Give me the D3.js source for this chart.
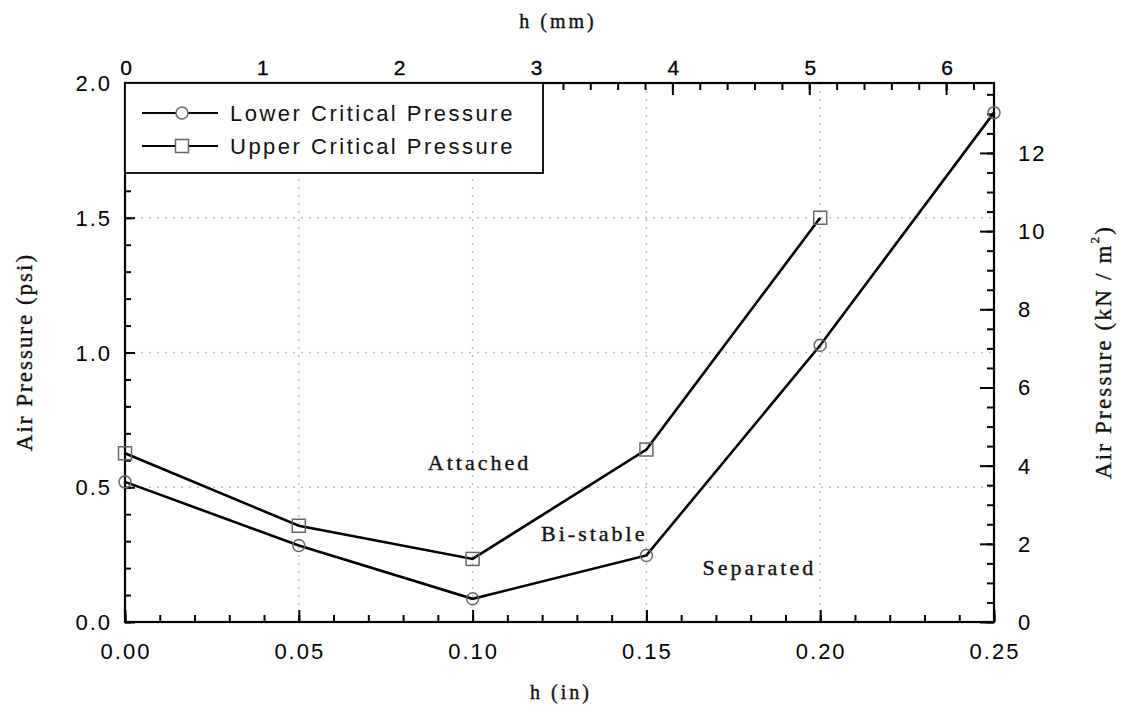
<!DOCTYPE html>
<html>
<head>
<meta charset="utf-8">
<script src="https://cdn.jsdelivr.net/npm/d3@7"></script>
<style>
body{margin:0;background:#fff;}
svg{display:block;}
</style>
</head>
<body>
<svg id="chart" width="1124" height="709"></svg>
<script>
const hIn = [0.00, 0.05, 0.10, 0.15, 0.20, 0.25];
const lowerCritical = [0.52, 0.284, 0.086, 0.247, 1.027, 1.89];
const hInUpper = [0.00, 0.05, 0.10, 0.15, 0.20];
const upperCritical = [0.626, 0.357, 0.234, 0.640, 1.50];
const seriesNames = ["Lower Critical Pressure", "Upper Critical Pressure"];
const regionLabels = [
  {text: "Attached", h: 0.102, p: 0.565},
  {text: "Bi-stable", h: 0.135, p: 0.30},
  {text: "Separated", h: 0.1825, p: 0.175}
];
const xTicksIn = [0.00, 0.05, 0.10, 0.15, 0.20, 0.25];
const yTicksPsi = [0.0, 0.5, 1.0, 1.5, 2.0];
const xTicksMm = [0, 1, 2, 3, 4, 5, 6];
const yTicksKn = [0, 2, 4, 6, 8, 10, 12];
const IN_TO_MM = 25.4, PSI_TO_KN = 6.89476;

const svg = d3.select("#chart");
const L = 125, R = 994, T = 83, B = 622;
const x = d3.scaleLinear().domain([0, 0.25]).range([L, R]);
const y = d3.scaleLinear().domain([0, 2]).range([B, T]);
const xmm = d3.scaleLinear().domain([0, 0.25 * IN_TO_MM]).range([L, R]);
const ykn = d3.scaleLinear().domain([0, 2 * PSI_TO_KN]).range([B, T]);

const sans = "'Liberation Sans', Arial, sans-serif";
const serif = "'Liberation Serif', 'Times New Roman', serif";

// grid
const grid = svg.append("g").attr("stroke", "#bdbdbd").attr("stroke-width", 1.5).attr("stroke-dasharray", "2,6");
grid.selectAll("line.v").data(xTicksIn.slice(1, -1)).join("line")
  .attr("x1", d => x(d)).attr("x2", d => x(d)).attr("y1", T).attr("y2", B);
grid.selectAll("line.h").data(yTicksPsi.slice(1, -1)).join("line")
  .attr("y1", d => y(d)).attr("y2", d => y(d)).attr("x1", L).attr("x2", R);

function styleAxis(g) {
  g.select(".domain").remove();
  g.selectAll("line").attr("stroke", "#000").attr("stroke-width", 2);
  g.selectAll("text").remove();
}
svg.append("g").attr("transform", `translate(0,${B})`)
  .call(d3.axisTop(x).tickValues(d3.range(0, 0.2501, 0.01)).tickSize(7)).call(styleAxis);
svg.append("g").attr("transform", `translate(0,${B})`)
  .call(d3.axisTop(x).tickValues(xTicksIn).tickSize(12)).call(styleAxis);
svg.append("g").attr("transform", `translate(0,${T})`)
  .call(d3.axisBottom(xmm).tickValues(d3.range(0, 6.35, 0.2)).tickSize(7)).call(styleAxis);
svg.append("g").attr("transform", `translate(0,${T})`)
  .call(d3.axisBottom(xmm).tickValues(xTicksMm).tickSize(12)).call(styleAxis);
svg.append("g").attr("transform", `translate(${L},0)`)
  .call(d3.axisRight(y).tickValues(d3.range(0, 2.001, 0.1)).tickSize(6)).call(styleAxis);
svg.append("g").attr("transform", `translate(${L},0)`)
  .call(d3.axisRight(y).tickValues(yTicksPsi).tickSize(10)).call(styleAxis);
svg.append("g").attr("transform", `translate(${R},0)`)
  .call(d3.axisLeft(ykn).tickValues(d3.range(0, 13.79, 0.5)).tickSize(7)).call(styleAxis);
svg.append("g").attr("transform", `translate(${R},0)`)
  .call(d3.axisLeft(ykn).tickValues(yTicksKn).tickSize(14)).call(styleAxis);

svg.append("rect").attr("x", L).attr("y", T).attr("width", R - L).attr("height", B - T)
  .attr("fill", "none").attr("stroke", "#000").attr("stroke-width", 2.2);

// tick labels
const ls = 2;
svg.append("g").selectAll("text").data(xTicksIn).join("text")
  .attr("x", d => x(d) + ls / 2).attr("y", 659).attr("text-anchor", "middle")
  .attr("font-family", sans).attr("font-size", 22).attr("letter-spacing", ls).attr("fill", "#000")
  .text(d => d.toFixed(2));
svg.append("g").selectAll("text").data(yTicksPsi).join("text")
  .attr("x", 110 + ls).attr("y", d => y(d) + 8).attr("text-anchor", "end")
  .attr("font-family", sans).attr("font-size", 22).attr("letter-spacing", ls).attr("fill", "#000")
  .text(d => d.toFixed(1));
svg.append("g").selectAll("text").data(xTicksMm).join("text")
  .attr("x", d => xmm(d) + 1).attr("y", 75).attr("text-anchor", "middle")
  .attr("font-family", sans).attr("font-size", 21).attr("fill", "#000")
  .attr("stroke", "#000").attr("stroke-width", 0.3)
  .text(d => d);
svg.append("g").selectAll("text").data(yTicksKn).join("text")
  .attr("x", 1018).attr("y", d => ykn(d) + 8).attr("text-anchor", "start")
  .attr("font-family", sans).attr("font-size", 22).attr("letter-spacing", ls).attr("fill", "#000")
  .text(d => d);

// axis titles
function serifText(sel, size, lsp) {
  return sel.attr("font-family", serif).attr("font-size", size).attr("letter-spacing", lsp)
    .attr("fill", "#111").attr("stroke", "#111").attr("stroke-width", 0.35);
}
serifText(svg.append("text").attr("x", 558).attr("y", 28).attr("text-anchor", "middle"), 20, 3)
  .text("h (mm)");
serifText(svg.append("text").attr("x", 561).attr("y", 699).attr("text-anchor", "middle"), 20, 3)
  .text("h (in)");
serifText(svg.append("text").attr("transform", "translate(32,352) rotate(-90)").attr("text-anchor", "middle"), 23, 2)
  .text("Air Pressure (psi)");
const rt = serifText(svg.append("text").attr("transform", "translate(1111,352) rotate(-90)").attr("text-anchor", "middle"), 23, 2.2);
rt.append("tspan").text("Air Pressure (kN / m");
rt.append("tspan").attr("font-size", 13).attr("dy", -12).text("2");
rt.append("tspan").attr("dy", 12).text(")");

// region labels
serifText(svg.append("g").selectAll("text").data(regionLabels).join("text")
  .attr("x", d => x(d.h)).attr("y", d => y(d.p)).attr("text-anchor", "middle"), 22, 3)
  .text(d => d.text);

// lines
const line = d3.line().x(d => x(d[0])).y(d => y(d[1]));
const lowerPts = hIn.map((h, i) => [h, lowerCritical[i]]);
const upperPts = hInUpper.map((h, i) => [h, upperCritical[i]]);
svg.append("path").datum(lowerPts).attr("d", line).attr("fill", "none").attr("stroke", "#000").attr("stroke-width", 2.6);
svg.append("path").datum(upperPts).attr("d", line).attr("fill", "none").attr("stroke", "#000").attr("stroke-width", 2.6);

// markers
svg.append("g").selectAll("circle").data(lowerPts).join("circle")
  .attr("cx", d => x(d[0])).attr("cy", d => y(d[1])).attr("r", 6)
  .attr("fill", "none").attr("stroke", "#666").attr("stroke-width", 1.5);
svg.append("g").selectAll("rect").data(upperPts).join("rect")
  .attr("x", d => x(d[0]) - 6.5).attr("y", d => y(d[1]) - 6.5).attr("width", 13).attr("height", 13)
  .attr("fill", "none").attr("stroke", "#666").attr("stroke-width", 1.5);

// legend
const lg = svg.append("g");
lg.append("rect").attr("x", L).attr("y", T).attr("width", 418).attr("height", 90)
  .attr("fill", "#fff").attr("stroke", "#000").attr("stroke-width", 1.8);
const ly = [113, 146];
seriesNames.forEach((name, i) => {
  lg.append("line").attr("x1", 142).attr("x2", 218).attr("y1", ly[i]).attr("y2", ly[i])
    .attr("stroke", "#000").attr("stroke-width", 2);
  if (i === 0) {
    lg.append("circle").attr("cx", 182).attr("cy", ly[i]).attr("r", 6)
      .attr("fill", "#fff").attr("stroke", "#666").attr("stroke-width", 1.5);
  } else {
    lg.append("rect").attr("x", 182 - 6.5).attr("y", ly[i] - 6.5).attr("width", 13).attr("height", 13)
      .attr("fill", "#fff").attr("stroke", "#666").attr("stroke-width", 1.5);
  }
  lg.append("text").attr("x", 230).attr("y", ly[i] + 8)
    .attr("font-family", sans).attr("font-size", 22).attr("letter-spacing", 2.5).attr("fill", "#111")
    .text(name);
});
</script>
</body>
</html>
